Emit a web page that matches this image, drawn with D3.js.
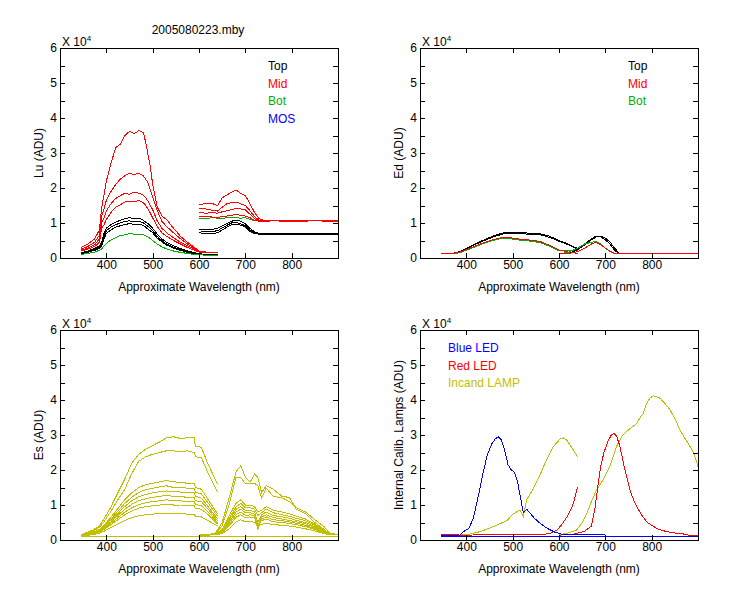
<!DOCTYPE html>
<html>
<head>
<meta charset="utf-8">
<script src="https://cdn.jsdelivr.net/npm/d3@7"></script>
<style>
  body { margin: 0; background: #fff; }
  svg { display: block; font-family: Arial, "Liberation Sans", sans-serif; font-size: 12px; }
  .spec { fill: none; stroke-width: 1; shape-rendering: crispEdges; }
  .tick text { font-size: 12px; fill: #000; }
  .tick line { stroke: #000; shape-rendering: crispEdges; }
</style>
</head>
<body>
<div id="chart"></div>
<script>
// all values in units of 10^4 ADU
const X_TICKS = [400, 500, 600, 700, 800];
const Y_TICKS = [0, 0.5, 1, 1.5, 2, 2.5, 3, 3.5, 4, 4.5, 5, 5.5, 6];
const TITLE = "2005080223.mby";

// ---- Lu (top left)
const LU_WL_A = [345, 360, 375, 385, 390, 395, 400, 410, 420, 430, 440, 450, 460, 470, 480, 485, 490, 495, 500, 510, 520, 530, 545, 560, 575, 590, 600, 620, 640];
const LU_RED1_A = [0.30, 0.40, 0.55, 0.80, 1.45, 1.80, 2.20, 2.70, 3.15, 3.25, 3.50, 3.62, 3.55, 3.64, 3.58, 3.30, 2.95, 2.60, 2.10, 1.45, 1.20, 1.10, 0.85, 0.62, 0.45, 0.30, 0.20, 0.16, 0.16];
const LU_RED2_A = [0.25, 0.33, 0.45, 0.65, 1.20, 1.40, 1.65, 1.90, 2.10, 2.25, 2.35, 2.42, 2.38, 2.42, 2.35, 2.25, 2.15, 1.95, 1.75, 1.35, 1.05, 0.90, 0.72, 0.55, 0.40, 0.28, 0.20, 0.16, 0.16];
const LU_RED3_A = [0.22, 0.28, 0.38, 0.55, 1.00, 1.15, 1.35, 1.55, 1.70, 1.78, 1.85, 1.82, 1.88, 1.85, 1.80, 1.72, 1.62, 1.50, 1.38, 1.05, 0.85, 0.72, 0.58, 0.45, 0.35, 0.25, 0.18, 0.15, 0.15];
const LU_RED4_A = [0.20, 0.25, 0.33, 0.45, 0.85, 0.95, 1.10, 1.30, 1.45, 1.52, 1.60, 1.62, 1.60, 1.65, 1.58, 1.50, 1.40, 1.28, 1.15, 0.90, 0.72, 0.62, 0.50, 0.40, 0.30, 0.22, 0.17, 0.15, 0.15];
const LU_BLACK1_A = [0.15, 0.20, 0.28, 0.35, 0.45, 0.70, 0.85, 0.95, 1.02, 1.08, 1.12, 1.15, 1.12, 1.14, 1.08, 1.02, 0.98, 0.92, 0.85, 0.68, 0.55, 0.45, 0.35, 0.27, 0.20, 0.15, 0.12, 0.10, 0.10];
const LU_BLACK2_A = [0.13, 0.18, 0.25, 0.32, 0.40, 0.62, 0.78, 0.88, 0.95, 1.00, 1.05, 1.06, 1.04, 1.05, 1.00, 0.95, 0.90, 0.85, 0.78, 0.62, 0.50, 0.40, 0.31, 0.24, 0.18, 0.13, 0.11, 0.10, 0.10];
const LU_BLACK3_A = [0.12, 0.16, 0.22, 0.28, 0.35, 0.55, 0.70, 0.80, 0.88, 0.92, 0.96, 0.98, 0.96, 0.97, 0.93, 0.88, 0.82, 0.78, 0.72, 0.57, 0.46, 0.37, 0.28, 0.22, 0.16, 0.12, 0.10, 0.09, 0.09];
const LU_GREEN_A = [0.10, 0.13, 0.17, 0.22, 0.26, 0.34, 0.42, 0.52, 0.58, 0.64, 0.66, 0.70, 0.68, 0.68, 0.66, 0.63, 0.60, 0.55, 0.50, 0.40, 0.32, 0.26, 0.20, 0.16, 0.13, 0.10, 0.09, 0.08, 0.08];

const LU_WL_B = [600, 615, 630, 640, 650, 660, 670, 680, 690, 700, 710, 720, 730, 740, 760, 800, 850, 900];
const LU_RED1_B = [1.52, 1.56, 1.55, 1.50, 1.72, 1.80, 1.88, 1.94, 1.85, 1.78, 1.55, 1.30, 1.12, 1.07, 1.07, 1.06, 1.07, 1.07];
const LU_RED2_B = [1.42, 1.40, 1.36, 1.34, 1.45, 1.55, 1.58, 1.60, 1.55, 1.50, 1.35, 1.18, 1.08, 1.06, 1.07, 1.06, 1.07, 1.06];
const LU_RED3_B = [1.30, 1.28, 1.30, 1.28, 1.32, 1.35, 1.38, 1.42, 1.40, 1.38, 1.25, 1.12, 1.07, 1.06, 1.06, 1.07, 1.06, 1.07];
const LU_RED4_B = [1.20, 1.18, 1.17, 1.16, 1.18, 1.20, 1.22, 1.24, 1.22, 1.20, 1.15, 1.08, 1.05, 1.05, 1.06, 1.05, 1.06, 1.05];
const LU_BLACK1_B = [0.80, 0.82, 0.82, 0.85, 0.92, 0.98, 1.05, 1.08, 1.05, 0.98, 0.85, 0.75, 0.70, 0.69, 0.69, 0.69, 0.69, 0.69];
const LU_BLACK2_B = [0.74, 0.75, 0.76, 0.78, 0.86, 0.93, 1.00, 1.02, 0.98, 0.92, 0.80, 0.72, 0.69, 0.68, 0.68, 0.68, 0.68, 0.68];
const LU_BLACK3_B = [0.72, 0.70, 0.70, 0.72, 0.80, 0.88, 0.95, 0.97, 0.94, 0.88, 0.76, 0.70, 0.68, 0.68, 0.68, 0.68, 0.68, 0.68];
const LU_GREEN_B = [1.14, 1.13, 1.15, 1.14, 1.13, 1.15, 1.16, 1.15, 1.14, 1.15, 1.10, 1.07, 1.06, 1.06, 1.06, 1.06, 1.06, 1.06];

// ---- Ed (top right)
const ED_WL_A = [345, 370, 385, 400, 415, 430, 445, 460, 480, 500, 520, 540, 560, 580, 600, 620, 640];
const ED_BLACK1_A = [0.12, 0.13, 0.18, 0.28, 0.38, 0.47, 0.56, 0.64, 0.72, 0.73, 0.72, 0.71, 0.69, 0.62, 0.50, 0.40, 0.27];
const ED_BLACK2_A = [0.12, 0.12, 0.16, 0.26, 0.36, 0.45, 0.53, 0.61, 0.69, 0.70, 0.69, 0.68, 0.66, 0.59, 0.48, 0.38, 0.26];
const ED_RED_A = [0.12, 0.13, 0.16, 0.24, 0.32, 0.40, 0.47, 0.53, 0.60, 0.57, 0.53, 0.51, 0.47, 0.36, 0.23, 0.17, 0.13];
const ED_GREEN_A = [0.12, 0.12, 0.15, 0.22, 0.30, 0.38, 0.45, 0.51, 0.57, 0.54, 0.50, 0.48, 0.44, 0.33, 0.21, 0.20, 0.22];

const ED_WL_B = [600, 620, 640, 655, 670, 680, 690, 700, 710, 720, 730, 760, 800, 850, 900];
const ED_BLACK1_B = [0.12, 0.12, 0.26, 0.40, 0.55, 0.63, 0.60, 0.52, 0.40, 0.22, 0.13, 0.12, 0.12, 0.12, 0.12];
const ED_BLACK2_B = [0.12, 0.12, 0.24, 0.37, 0.52, 0.60, 0.62, 0.57, 0.46, 0.28, 0.14, 0.12, 0.13, 0.12, 0.12];
const ED_RED_B = [0.12, 0.13, 0.18, 0.28, 0.40, 0.45, 0.38, 0.28, 0.20, 0.13, 0.12, 0.12, 0.12, 0.12, 0.12];
const ED_GREEN_B = [0.12, 0.16, 0.28, 0.40, 0.45, 0.47, 0.40, 0.28, 0.18, 0.12, 0.12, 0.12, 0.12, 0.12, 0.12];

// ---- Es (bottom left)
const ES_WL_A = [345, 370, 385, 395, 410, 425, 440, 455, 470, 485, 500, 515, 530, 545, 560, 575, 590, 592, 605, 620, 640];
const ES_A = [
  [0.15, 0.28, 0.40, 0.60, 0.95, 1.35, 1.75, 2.20, 2.45, 2.60, 2.70, 2.80, 2.92, 2.95, 2.90, 2.92, 2.92, 2.68, 2.65, 2.15, 1.60],
  [0.14, 0.25, 0.36, 0.52, 0.82, 1.15, 1.45, 1.90, 2.25, 2.38, 2.45, 2.50, 2.55, 2.55, 2.52, 2.55, 2.50, 2.38, 2.35, 1.90, 1.38],
  [0.13, 0.22, 0.30, 0.42, 0.65, 0.90, 1.15, 1.35, 1.50, 1.58, 1.62, 1.66, 1.70, 1.66, 1.65, 1.62, 1.62, 1.50, 1.45, 1.15, 0.75],
  [0.13, 0.21, 0.28, 0.40, 0.60, 0.82, 1.05, 1.22, 1.36, 1.44, 1.48, 1.52, 1.55, 1.50, 1.50, 1.48, 1.48, 1.36, 1.32, 1.05, 0.68],
  [0.13, 0.20, 0.27, 0.38, 0.56, 0.76, 0.96, 1.12, 1.24, 1.30, 1.35, 1.38, 1.40, 1.38, 1.37, 1.35, 1.35, 1.25, 1.20, 0.95, 0.60],
  [0.12, 0.19, 0.25, 0.35, 0.52, 0.70, 0.88, 1.02, 1.12, 1.18, 1.22, 1.25, 1.27, 1.25, 1.24, 1.22, 1.22, 1.12, 1.10, 0.88, 0.55],
  [0.12, 0.18, 0.24, 0.33, 0.48, 0.64, 0.80, 0.92, 1.01, 1.06, 1.10, 1.12, 1.15, 1.12, 1.12, 1.10, 1.10, 1.02, 0.98, 0.80, 0.50],
  [0.12, 0.17, 0.22, 0.30, 0.44, 0.58, 0.72, 0.83, 0.91, 0.95, 0.98, 1.00, 1.02, 1.00, 1.00, 0.98, 0.98, 0.90, 0.88, 0.72, 0.46],
  [0.11, 0.15, 0.19, 0.25, 0.36, 0.46, 0.56, 0.64, 0.69, 0.72, 0.74, 0.76, 0.76, 0.75, 0.75, 0.74, 0.74, 0.68, 0.66, 0.55, 0.40],
];
const ES_WL_B = [600, 620, 635, 650, 665, 680, 690, 700, 710, 720, 727, 735, 745, 760, 780, 795, 810, 830, 850, 870, 882, 900];
const ES_B = [
  [0.14, 0.16, 0.19, 0.50, 1.20, 1.95, 2.12, 1.80, 1.65, 1.88, 1.80, 1.35, 1.55, 1.45, 1.24, 1.22, 0.88, 0.75, 0.50, 0.30, 0.18, 0.15],
  [0.14, 0.15, 0.18, 0.40, 1.00, 1.80, 1.78, 1.62, 1.60, 1.62, 1.55, 1.20, 1.48, 1.25, 1.20, 1.10, 0.92, 0.80, 0.58, 0.38, 0.20, 0.15],
  [0.14, 0.15, 0.17, 0.30, 0.70, 1.05, 1.15, 1.00, 1.00, 0.95, 0.80, 0.85, 0.95, 0.85, 0.80, 0.75, 0.68, 0.60, 0.45, 0.30, 0.16, 0.15],
  [0.14, 0.15, 0.17, 0.28, 0.62, 0.95, 1.05, 0.92, 0.92, 0.88, 0.70, 0.78, 0.88, 0.78, 0.72, 0.68, 0.62, 0.55, 0.42, 0.28, 0.16, 0.15],
  [0.14, 0.15, 0.16, 0.26, 0.56, 0.88, 0.95, 0.85, 0.85, 0.80, 0.50, 0.72, 0.80, 0.70, 0.66, 0.62, 0.56, 0.50, 0.38, 0.25, 0.16, 0.15],
  [0.14, 0.15, 0.16, 0.24, 0.50, 0.80, 0.88, 0.78, 0.78, 0.74, 0.40, 0.66, 0.72, 0.64, 0.60, 0.56, 0.52, 0.46, 0.35, 0.23, 0.16, 0.15],
  [0.14, 0.14, 0.16, 0.22, 0.45, 0.72, 0.80, 0.70, 0.72, 0.68, 0.30, 0.60, 0.66, 0.58, 0.55, 0.52, 0.48, 0.42, 0.32, 0.22, 0.15, 0.15],
  [0.14, 0.14, 0.15, 0.20, 0.40, 0.65, 0.72, 0.64, 0.66, 0.62, 0.55, 0.55, 0.60, 0.52, 0.50, 0.47, 0.44, 0.38, 0.30, 0.20, 0.15, 0.15],
  [0.14, 0.14, 0.15, 0.18, 0.32, 0.52, 0.58, 0.52, 0.54, 0.50, 0.45, 0.45, 0.48, 0.44, 0.42, 0.40, 0.37, 0.32, 0.26, 0.18, 0.15, 0.15],
];
const ES_DARK_WL = [345, 900];
const ES_DARK = [0.11, 0.11];

// ---- calibration lamps (bottom right)
const BLUE_WL = [345, 385, 395, 405, 415, 425, 435, 445, 455, 462, 469, 476, 483, 490, 497, 503, 510, 517, 523, 530, 537, 545, 555, 565, 575, 590, 605, 620, 660, 700];
const BLUE_LED = [0.12, 0.13, 0.25, 0.32, 0.62, 1.20, 1.85, 2.42, 2.75, 2.88, 2.95, 2.85, 2.55, 2.15, 2.00, 1.95, 1.70, 1.20, 0.78, 0.88, 0.78, 0.65, 0.52, 0.42, 0.33, 0.23, 0.17, 0.15, 0.16, 0.15];
const BLUE_BASE_WL = [345, 900];
const BLUE_BASE = [0.11, 0.11];
const RED_WL_A = [345, 400, 450, 500, 550, 580, 595, 605, 617, 625, 631, 636, 640];
const RED_LED_A = [0.15, 0.14, 0.15, 0.15, 0.15, 0.18, 0.28, 0.42, 0.66, 0.85, 1.05, 1.30, 1.52];
const RED_WL_B = [600, 630, 655, 670, 677, 683, 690, 697, 705, 712, 718, 724, 731, 739, 746, 753, 760, 768, 778, 789, 800, 811, 822, 832, 850, 876, 880, 900];
const RED_LED_B = [0.14, 0.16, 0.25, 0.40, 0.85, 1.45, 2.10, 2.50, 2.80, 2.98, 3.05, 2.98, 2.70, 2.20, 1.80, 1.43, 1.18, 0.95, 0.72, 0.52, 0.42, 0.33, 0.28, 0.24, 0.20, 0.16, 0.13, 0.13];
const INC_WL_A = [345, 401, 430, 458, 487, 501, 516, 523, 530, 545, 559, 573, 588, 602, 609, 617, 624, 632, 640];
const INC_LAMP_A = [0.12, 0.15, 0.24, 0.38, 0.55, 0.74, 0.86, 0.66, 1.14, 1.48, 1.86, 2.29, 2.67, 2.88, 2.92, 2.85, 2.71, 2.55, 2.38];
const INC_WL_B = [600, 617, 638, 650, 660, 670, 681, 695, 710, 724, 735, 746, 757, 768, 775, 782, 789, 796, 803, 810, 818, 829, 840, 851, 861, 872, 883, 892, 900];
const INC_LAMP_B = [0.15, 0.19, 0.28, 0.50, 0.76, 1.10, 1.43, 1.71, 2.10, 2.67, 2.95, 3.10, 3.22, 3.33, 3.50, 3.62, 3.90, 4.05, 4.12, 4.10, 4.05, 3.90, 3.71, 3.45, 3.14, 2.90, 2.67, 2.45, 2.10];

const BLACK = "#000000";
const RED = "#ff0000";
const GREEN = "#00b000";
const BLUE = "#0000ff";
const OLIVE = "#c0c000";

const panels = [
  {
    left: 60, top: 48, ylabel: "Lu (ADU)", title: TITLE,
    legend: [["Top", BLACK], ["Mid", RED], ["Bot", GREEN], ["MOS", BLUE]], legendX: 268, legendY: 70,
    series: [
      [LU_WL_A, LU_BLACK1_A, BLACK], [LU_WL_A, LU_BLACK2_A, BLACK], [LU_WL_A, LU_BLACK3_A, BLACK],
      [LU_WL_A, LU_GREEN_A, GREEN],
      [LU_WL_A, LU_RED4_A, RED], [LU_WL_A, LU_RED3_A, RED], [LU_WL_A, LU_RED2_A, RED], [LU_WL_A, LU_RED1_A, RED],
      [LU_WL_B, LU_BLACK1_B, BLACK], [LU_WL_B, LU_BLACK2_B, BLACK], [LU_WL_B, LU_BLACK3_B, BLACK],
      [LU_WL_B, LU_GREEN_B, GREEN],
      [LU_WL_B, LU_RED4_B, RED], [LU_WL_B, LU_RED3_B, RED], [LU_WL_B, LU_RED2_B, RED], [LU_WL_B, LU_RED1_B, RED],
    ],
  },
  {
    left: 420, top: 48, ylabel: "Ed  (ADU)",
    legend: [["Top", BLACK], ["Mid", RED], ["Bot", GREEN]], legendX: 628, legendY: 70,
    series: [
      [ED_WL_A, ED_BLACK1_A, BLACK], [ED_WL_A, ED_BLACK2_A, BLACK],
      [ED_WL_A, ED_GREEN_A, GREEN], [ED_WL_A, ED_RED_A, RED],
      [ED_WL_B, ED_BLACK1_B, BLACK], [ED_WL_B, ED_BLACK2_B, BLACK],
      [ED_WL_B, ED_GREEN_B, GREEN], [ED_WL_B, ED_RED_B, RED],
    ],
  },
  {
    left: 60, top: 330, ylabel: "Es  (ADU)", legend: [],
    series: [
      [ES_DARK_WL, ES_DARK, OLIVE],
      ...ES_A.map((v) => [ES_WL_A, v, OLIVE]),
      ...ES_B.map((v) => [ES_WL_B, v, OLIVE]),
    ],
  },
  {
    left: 420, top: 330, ylabel: "Internal Calib. Lamps (ADU)",
    legend: [["Blue LED", BLUE], ["Red LED", RED], ["Incand LAMP", OLIVE]], legendX: 448, legendY: 352,
    series: [
      [INC_WL_A, INC_LAMP_A, OLIVE], [INC_WL_B, INC_LAMP_B, OLIVE],
      [RED_WL_A, RED_LED_A, RED], [RED_WL_B, RED_LED_B, RED],
      [BLUE_BASE_WL, BLUE_BASE, BLUE], [BLUE_WL, BLUE_LED, BLUE],
    ],
  },
];

const W = 750, H = 600;
const PW = 278, PH = 210;

const svg = d3.select("#chart").append("svg").attr("width", W).attr("height", H);

function drawPanel(p) {
  const x = d3.scaleLinear().domain([300, 900]).range([p.left, p.left + PW]);
  const y = d3.scaleLinear().domain([0, 6]).range([p.top + PH, p.top]);
  const g = svg.append("g");

  const line = d3.line().x((d) => x(d[0])).y((d) => y(d[1]));
  const clipId = `clip-${p.left}-${p.top}`;
  g.append("clipPath").attr("id", clipId)
    .append("rect").attr("x", p.left).attr("y", p.top).attr("width", PW).attr("height", PH);

  g.append("g").attr("clip-path", `url(#${clipId})`)
    .selectAll("path")
    .data(p.series)
    .join("path")
    .attr("class", "spec")
    .attr("stroke", (s) => s[2])
    .attr("d", (s) => line(d3.zip(s[0], s[1])));

  // axes, ticks pointing inward on all four sides
  g.append("g").attr("transform", `translate(0,${p.top + PH})`)
    .call(d3.axisBottom(x).tickValues(X_TICKS).tickSizeInner(-5).tickSizeOuter(0).tickPadding(2))
    .call((a) => a.select(".domain").remove());
  g.append("g").attr("transform", `translate(0,${p.top})`)
    .call(d3.axisTop(x).tickValues(X_TICKS).tickSizeInner(-5).tickSizeOuter(0).tickFormat(""))
    .call((a) => a.select(".domain").remove());
  g.append("g").attr("transform", `translate(${p.left},0)`)
    .call(d3.axisLeft(y).tickValues(Y_TICKS).tickSizeInner(-5).tickSizeOuter(0).tickPadding(3)
      .tickFormat((d) => (Number.isInteger(d) ? d : "")))
    .call((a) => a.select(".domain").remove());
  g.append("g").attr("transform", `translate(${p.left + PW},0)`)
    .call(d3.axisRight(y).tickValues(Y_TICKS).tickSizeInner(-5).tickSizeOuter(0).tickFormat(""))
    .call((a) => a.select(".domain").remove());
  g.selectAll(".tick text").attr("font-family", null).attr("font-size", null);

  g.append("rect")
    .attr("x", p.left + 0.5).attr("y", p.top + 0.5)
    .attr("width", PW).attr("height", PH)
    .attr("fill", "none").attr("stroke", "#000");

  // exponent marker
  const ex = g.append("text").attr("x", p.left + 2).attr("y", p.top - 2);
  ex.append("tspan").text("X 10");
  ex.append("tspan").attr("font-size", 8).attr("dy", -5).text("4");

  g.append("text")
    .attr("text-anchor", "middle")
    .attr("x", p.left + PW / 2)
    .attr("y", p.top + PH + 33)
    .text("Approximate Wavelength (nm)");

  g.append("text")
    .attr("text-anchor", "middle")
    .attr("transform", `translate(${p.left - 17},${p.top + PH / 2}) rotate(-90)`)
    .text(p.ylabel);

  if (p.title) {
    g.append("text").attr("text-anchor", "middle")
      .attr("x", p.left + PW / 2 - 1).attr("y", p.top - 14).text(p.title);
  }

  g.selectAll(".legend")
    .data(p.legend)
    .join("text")
    .attr("class", "legend")
    .attr("x", p.legendX)
    .attr("y", (d, i) => p.legendY + i * 17.5)
    .attr("fill", (d) => d[1])
    .text((d) => d[0]);
}

panels.forEach(drawPanel);
</script>
</body>
</html>
